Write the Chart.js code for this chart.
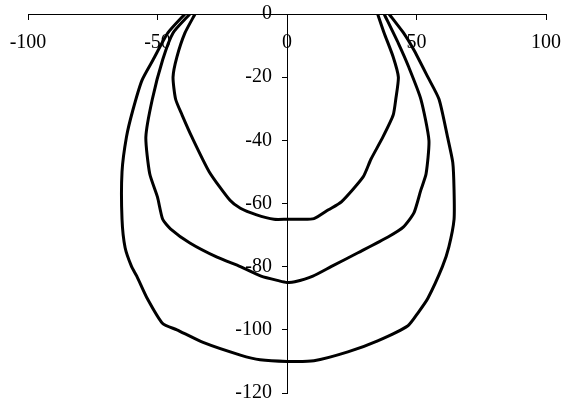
<!DOCTYPE html>
<html>
<head>
<meta charset="utf-8">
<script src="https://cdn.jsdelivr.net/npm/chart.js@4.4.3/dist/chart.umd.min.js"></script>
<style>
  html, body { margin: 0; padding: 0; background: #fff; }
  canvas { display: block; }
</style>
</head>
<body>
<canvas id="chart" width="562" height="406"></canvas>
<script>
// three contours, traced left top -> bottom -> right top
const innerX = [-35.5, -39.4, -42.5, -44, -43, -40.5, -36.7, -30, -22, -18, -12, -5, 0, 5, 10.4, 16, 21, 29.4, 32.4, 37, 41, 42, 43, 41, 37.5, 35];
const innerY = [0, -6, -13.6, -20, -27, -32, -39, -50, -59, -61.5, -63.5, -65, -65, -65, -64.8, -62, -59.5, -51.6, -46, -39, -32, -27, -20, -13.6, -6, 0];

const middleX = [-37.5, -44, -48, -52, -54.5, -53, -50, -48, -45, -37.5, -27, -18, -10, -3, 0, 3, 10, 17, 27.4, 39, 45, 49, 51.7, 53.7, 54.8, 51.7, 47, 43, 37.5];
const middleY = [0, -6, -14.5, -27, -39, -50.6, -58, -65, -68, -72.5, -77, -80, -83, -84.5, -85, -84.8, -83, -80, -75.6, -70.6, -67.4, -63, -55.7, -50.6, -40, -27, -16.8, -9.3, 0];

const outerX = [-39.4, -46, -51.7, -56, -59.5, -62, -63.7, -63.7, -62.5, -60, -58, -54, -48, -42.5, -32.4, -18, -10.4, 0, 10.4, 23.5, 35, 46.7, 50.6, 54.4, 60, 62.5, 64.5, 64.5, 64, 62, 58.7, 54.4, 49, 45, 39.4];
const outerY = [0, -6, -14.5, -21, -30.4, -39, -50, -65, -74, -80, -83, -90, -98, -100, -104, -108, -109.5, -110, -109.8, -107, -103.5, -98.7, -94.6, -90, -80, -73.7, -65, -55.7, -47, -39, -27, -20, -11.4, -6, 0];

const xTicks = [-100, -50, 0, 50, 100];
const yTicks = [0, -20, -40, -60, -80, -100, -120];

const toPoints = (xs, ys) => xs.map((x, i) => ({ x: x, y: ys[i] }));

const lineStyle = {
  showLine: true,
  borderColor: '#000',
  borderWidth: 3,
  pointRadius: 0,
  fill: false,
  tension: 0.2
};

const font = { family: '"Liberation Serif", "Times New Roman", serif', size: 20 };

// axes sit inside the plot, so they take no room of their own
const noRoom = s => {
  if (s.isHorizontal()) s.height = 0; else s.width = 0;
  s.paddingLeft = s.paddingRight = s.paddingTop = s.paddingBottom = 0;
};

new Chart(document.getElementById('chart'), {
  type: 'scatter',
  data: {
    datasets: [
      { ...lineStyle, data: toPoints(innerX, innerY) },
      { ...lineStyle, data: toPoints(middleX, middleY) },
      { ...lineStyle, data: toPoints(outerX, outerY) }
    ]
  },
  options: {
    responsive: false,
    animation: false,
    layout: { padding: { left: 28, right: 16, top: 14, bottom: 13 } },
    plugins: {
      legend: { display: false },
      tooltip: { enabled: false }
    },
    scales: {
      x: {
        type: 'linear',
        min: -100,
        max: 100,
        position: { y: 0 },
        afterFit: noRoom,
        afterBuildTicks: s => { s.ticks = xTicks.map(v => ({ value: v })); },
        border: { color: '#000', width: 1 },
        grid: { drawOnChartArea: false, drawTicks: true, tickLength: 5, color: '#000' },
        ticks: { color: '#000', font: font, padding: 12, maxRotation: 0 }
      },
      y: {
        type: 'linear',
        min: -120,
        max: 0,
        position: { x: 0 },
        afterFit: noRoom,
        afterBuildTicks: s => { s.ticks = yTicks.map(v => ({ value: v })); },
        border: { color: '#000', width: 1 },
        grid: { drawOnChartArea: false, drawTicks: true, tickLength: 5, color: '#000' },
        // labels of a value-positioned axis sit right on the line, push them left
        ticks: { color: '#000', font: font, callback: v => v + '   ' }
      }
    }
  }
});
</script>
</body>
</html>
